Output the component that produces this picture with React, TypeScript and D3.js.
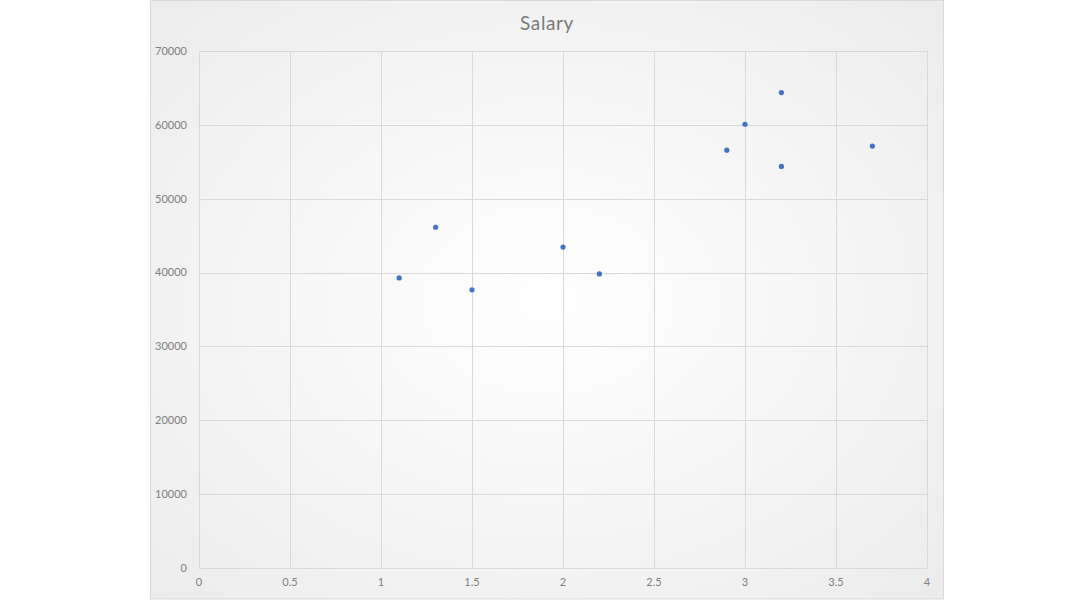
import React, { useEffect, useRef } from "react";
import * as d3 from "d3";

const years = [1.1, 1.3, 1.5, 2.0, 2.2, 2.9, 3.0, 3.2, 3.2, 3.7];
const salary = [39343, 46205, 37731, 43525, 39891, 56642, 60150, 54445, 64445, 57189];
const xTicks = [0, 0.5, 1, 1.5, 2, 2.5, 3, 3.5, 4];
const yTicks = [0, 10000, 20000, 30000, 40000, 50000, 60000, 70000];
const title = "Salary";

const App = () => {
  const svgRef = useRef<SVGSVGElement | null>(null);

  useEffect(() => {
    const width = 1080;
    const height = 600;
    const boxLeft = 150;
    const boxRight = 944;
    const plotLeft = 199;
    const plotRight = 927;
    const plotTop = 51;
    const plotBottom = 568;

    const svg = d3.select(svgRef.current);
    svg.selectAll("*").remove();
    svg.attr("viewBox", [0, 0, width, height]).attr("width", width).attr("height", height);

    const defs = svg.append("defs");
    const grad = defs
      .append("radialGradient")
      .attr("id", "bg")
      .attr("cx", "50%")
      .attr("cy", "50%")
      .attr("r", "70%");
    grad.append("stop").attr("offset", "0%").attr("stop-color", "#ffffff");
    grad.append("stop").attr("offset", "100%").attr("stop-color", "#ececec");

    svg
      .append("rect")
      .attr("x", boxLeft + 0.5)
      .attr("y", 0.5)
      .attr("width", boxRight - boxLeft - 1)
      .attr("height", height - 1.5)
      .attr("fill", "url(#bg)")
      .attr("stroke", "#d9d9d9")
      .attr("stroke-width", 1);

    const x = d3.scaleLinear().domain([0, 4]).range([plotLeft, plotRight]);
    const y = d3.scaleLinear().domain([0, 70000]).range([plotBottom, plotTop]);

    // gridlines
    svg
      .append("g")
      .selectAll("line")
      .data(xTicks)
      .join("line")
      .attr("x1", (d) => Math.round(x(d)) + 0.5)
      .attr("x2", (d) => Math.round(x(d)) + 0.5)
      .attr("y1", plotTop)
      .attr("y2", plotBottom)
      .attr("stroke", "#d9d9d9");

    svg
      .append("g")
      .selectAll("line")
      .data(yTicks)
      .join("line")
      .attr("x1", plotLeft)
      .attr("x2", plotRight)
      .attr("y1", (d) => Math.round(y(d)) + 0.5)
      .attr("y2", (d) => Math.round(y(d)) + 0.5)
      .attr("stroke", "#d9d9d9");

    const font = "Lato, 'Open Sans', sans-serif";

    // tick labels
    svg
      .append("g")
      .selectAll("text")
      .data(yTicks)
      .join("text")
      .attr("x", 187)
      .attr("y", (d) => y(d))
      .attr("dy", "0.35em")
      .attr("text-anchor", "end")
      .attr("font-family", font)
      .attr("font-size", 11)
      .attr("fill", "#7f7f7f")
      .text((d) => String(d));

    svg
      .append("g")
      .selectAll("text")
      .data(xTicks)
      .join("text")
      .attr("x", (d) => x(d))
      .attr("y", 586)
      .attr("text-anchor", "middle")
      .attr("font-family", font)
      .attr("font-size", 11)
      .attr("fill", "#7f7f7f")
      .text((d) => String(d));

    // title
    svg
      .append("text")
      .attr("x", (boxLeft + boxRight) / 2)
      .attr("y", 30)
      .attr("text-anchor", "middle")
      .attr("font-family", font)
      .attr("font-size", 19)
      .attr("letter-spacing", 0.6)
      .attr("fill", "#7a7a7a")
      .text(title);

    // points
    svg
      .append("g")
      .selectAll("circle")
      .data(years.map((v, i) => ({ x: v, y: salary[i] })))
      .join("circle")
      .attr("cx", (d) => x(d.x))
      .attr("cy", (d) => y(d.y) + 0.5)
      .attr("r", 2.6)
      .attr("fill", "#4472c4");
  }, []);

  return (
    <div style={{ position: "absolute", left: 0, top: 0 }}>
      <svg ref={svgRef} style={{ display: "block" }}></svg>
    </div>
  );
};

export default App;
